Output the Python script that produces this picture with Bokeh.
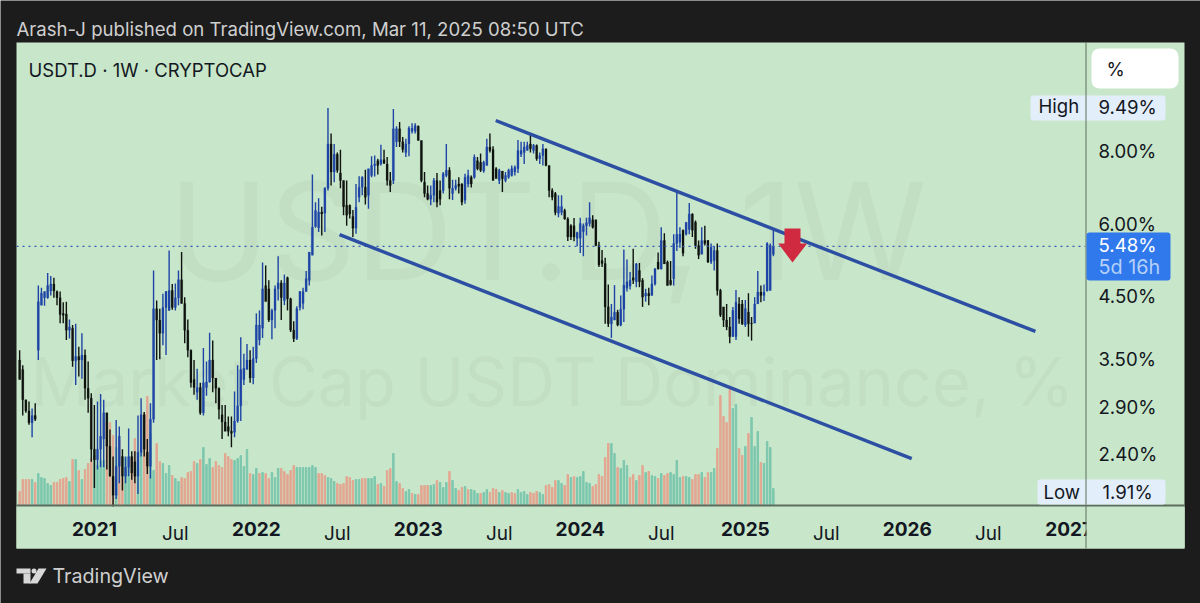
import pandas as pd
from bokeh.embed import file_html
from bokeh.resources import INLINE
from bokeh.plotting import figure
from bokeh.models import (Range1d, LinearAxis, LinearScale, FixedTicker, BoxAnnotation, Label,
                          PolyAnnotation, ColumnDataSource)

FIRST_WEEK = "2020-07-13"
highs = [3.63,3.42,2.98,2.96,2.88,2.94,4.69,4.65,4.58,4.93,
 4.87,4.84,4.60,4.58,4.39,4.40,4.10,4.01,4.03,3.68,
 3.88,3.64,3.47,3.06,2.92,2.96,3.05,2.98,2.83,2.65,
 2.38,2.75,2.68,2.45,2.38,2.66,2.43,2.43,2.80,3.00,
 2.84,2.55,2.94,4.98,4.42,4.28,4.54,4.59,5.39,4.72,
 4.73,4.98,5.36,4.48,4.10,3.64,3.49,3.37,3.19,3.66,
 3.47,3.89,3.77,3.25,3.13,2.92,2.92,2.79,2.79,3.08,
 3.42,3.82,3.58,3.72,3.63,3.68,4.20,4.25,5.14,5.08,
 4.79,4.28,4.69,5.27,4.79,4.90,4.86,4.47,4.07,4.32,
 4.59,4.65,4.97,5.36,7.29,6.53,6.63,6.41,6.93,9.49,
 8.58,8.23,7.95,8.04,7.12,7.12,6.47,6.33,7.02,7.24,
 7.24,7.43,7.46,7.84,7.86,7.76,8.20,8.04,7.81,7.36,
 9.45,8.83,8.98,8.46,8.40,8.83,8.93,8.93,8.85,8.34,
 7.36,6.98,6.98,7.19,7.33,7.12,7.36,8.23,7.50,7.14,
 7.14,7.21,7.04,7.31,7.43,7.26,7.89,7.81,7.92,7.70,
 8.40,8.58,8.15,7.50,7.46,7.39,7.36,7.46,7.55,7.55,
 8.36,8.30,8.30,8.30,8.53,8.23,8.21,7.95,8.23,8.07,
 7.55,6.90,6.80,6.71,6.71,6.36,6.15,5.98,6.13,5.81,
 6.14,6.00,6.14,6.53,6.20,6.09,5.58,5.40,5.24,4.71,
 4.36,4.70,4.26,4.51,5.41,5.20,4.95,5.43,5.13,5.13,
 4.83,4.63,4.65,4.88,5.03,5.35,5.91,5.77,5.18,5.17,
 5.75,6.80,5.91,5.86,6.03,6.51,6.25,6.07,5.61,5.91,
 5.95,5.62,5.54,5.48,5.54,4.63,4.31,4.36,4.14,4.31,
 4.61,4.48,4.43,4.43,4.55,4.14,4.48,4.97,4.69,4.71,
 5.57,5.54,5.85]
lows = [3.23,2.80,2.83,2.70,2.57,2.74,3.49,4.34,4.33,4.45,
 4.51,4.47,4.34,4.04,4.04,3.78,3.80,3.40,3.16,3.27,
 3.24,2.98,2.83,2.33,2.10,2.26,2.28,2.28,2.26,2.20,
 1.91,2.01,2.14,2.08,2.14,2.20,2.17,2.14,2.05,2.38,
 2.38,2.22,2.18,2.72,3.49,3.50,3.70,3.56,4.25,4.26,
 4.25,4.34,4.37,3.73,3.53,3.13,3.04,2.98,2.81,2.80,
 3.03,3.19,3.07,2.94,2.76,2.55,2.63,2.58,2.47,2.57,
 2.72,2.74,3.16,3.36,3.19,3.17,3.45,3.70,3.81,4.42,
 4.06,3.79,3.96,4.42,4.09,4.34,4.25,3.90,3.75,3.78,
 4.25,4.27,4.58,4.69,5.29,5.90,5.80,5.72,5.80,6.84,
 6.98,7.07,7.34,6.90,6.20,5.95,6.12,5.69,5.76,6.53,
 6.71,6.47,6.36,7.21,7.23,7.29,7.55,7.60,6.98,6.80,
 7.02,8.13,8.13,7.95,7.81,7.84,8.58,8.58,8.34,7.07,
 6.66,6.58,6.45,6.53,6.40,6.45,6.76,7.21,6.61,6.59,
 6.84,6.76,6.45,6.49,6.93,6.92,7.17,7.41,7.36,7.34,
 7.55,7.95,7.12,7.21,7.02,6.80,7.07,7.17,7.23,7.26,
 7.33,7.81,7.60,8.02,7.95,7.92,7.70,7.60,7.55,7.53,
 6.66,6.58,6.20,6.15,6.20,6.09,5.60,5.62,5.59,5.48,
 5.34,5.27,5.72,5.93,5.88,5.48,5.05,5.05,4.03,3.98,
 3.81,4.09,3.99,3.99,4.06,4.58,4.62,4.72,4.66,4.66,
 4.31,4.40,4.34,4.51,4.69,5.00,5.00,5.11,4.69,4.69,
 4.69,5.38,5.45,5.27,5.72,5.75,5.69,5.43,5.21,5.31,
 5.50,5.13,5.11,4.98,4.51,4.14,3.98,3.93,3.73,3.83,
 3.78,4.03,4.01,3.98,3.83,3.77,4.04,4.42,4.39,4.41,
 4.58,4.60,5.27]
opens = [3.49,3.36,2.98,2.85,2.72,2.80,3.63,4.34,4.47,4.47,
 4.59,4.72,4.58,4.47,4.20,4.19,3.93,3.96,3.48,3.54,
 3.49,3.56,3.12,3.00,2.45,2.35,2.45,2.55,2.83,2.48,
 2.20,2.04,2.29,2.38,2.20,2.28,2.38,2.33,2.20,2.42,
 2.81,2.42,2.29,2.76,4.28,4.09,3.88,4.30,4.25,4.60,
 4.30,4.47,4.80,4.37,3.93,3.63,3.23,3.07,3.13,2.83,
 3.13,3.20,3.49,3.25,3.12,2.81,2.73,2.68,2.63,2.62,
 2.74,2.91,3.23,3.36,3.49,3.25,3.51,3.78,3.96,4.69,
 4.63,4.09,4.25,4.63,4.74,4.42,4.84,4.45,3.93,3.80,
 4.30,4.37,4.58,4.79,5.29,5.93,5.90,6.28,6.25,6.90,
 8.23,7.36,7.90,7.33,7.12,6.45,6.45,6.17,5.89,6.66,
 6.93,6.93,6.71,7.26,7.55,7.70,7.60,7.73,7.60,7.12,
 7.12,8.30,8.74,8.30,7.95,8.23,8.65,8.65,8.83,8.34,
 7.07,6.76,6.61,6.71,7.12,6.84,6.84,7.26,7.41,6.76,
 6.90,7.02,7.02,6.58,7.02,7.21,7.21,7.70,7.65,7.39,
 7.55,8.13,8.05,7.46,7.12,7.39,7.12,7.21,7.26,7.36,
 7.46,7.90,7.95,8.02,8.23,8.02,8.18,7.76,7.86,8.07,
 7.55,6.84,6.76,6.25,6.27,6.32,6.11,5.95,5.95,5.66,
 5.66,5.81,5.95,6.00,6.09,6.09,5.50,5.18,5.12,4.31,
 4.03,4.09,4.22,4.01,4.27,4.64,4.68,4.84,4.76,4.98,
 4.79,4.50,4.55,4.51,4.72,5.15,5.01,5.61,5.15,4.79,
 4.82,5.54,5.57,5.84,5.75,5.86,6.23,6.03,5.50,5.31,
 5.61,5.61,5.15,5.18,5.39,4.60,4.31,4.09,3.98,3.83,
 3.83,4.36,4.36,4.01,4.22,4.04,4.04,4.36,4.57,4.51,
 4.59,4.60,5.31]
closes = [3.23,2.98,2.85,2.72,2.80,2.76,4.40,4.55,4.58,4.69,
 4.72,4.59,4.47,4.18,4.17,3.93,3.98,3.48,3.54,3.49,
 3.56,3.12,3.00,2.45,2.35,2.45,2.58,2.83,2.48,2.20,
 2.04,2.29,2.58,2.20,2.28,2.38,2.23,2.20,2.42,2.81,
 2.45,2.29,2.76,4.28,4.09,3.88,4.30,4.58,4.60,4.30,
 4.47,4.80,4.37,3.93,3.63,3.19,3.13,3.13,2.83,3.19,
 3.20,3.49,3.25,3.12,2.87,2.73,2.63,2.63,2.61,2.74,
 2.91,3.36,3.38,3.49,3.25,3.51,4.01,4.01,4.63,4.40,
 4.09,4.25,4.63,4.74,4.47,4.74,4.45,3.93,3.80,4.28,
 4.58,4.58,4.82,5.36,5.91,6.32,6.28,6.23,6.90,8.23,
 7.36,7.90,7.41,7.12,6.41,6.20,6.23,5.89,6.40,6.93,
 7.21,6.66,7.46,7.55,7.60,7.55,7.73,7.62,7.12,6.98,
 8.74,8.74,8.30,8.05,8.23,8.76,8.76,8.85,8.34,7.12,
 6.76,6.61,6.71,7.12,6.53,6.61,7.31,7.41,6.90,6.90,
 6.98,6.96,6.53,7.21,7.26,7.02,7.81,7.46,7.41,7.65,
 8.13,8.02,7.12,7.17,7.41,7.17,7.26,7.41,7.46,7.50,
 8.02,8.02,8.13,8.18,8.07,8.18,7.76,7.86,8.07,7.55,
 6.84,6.66,6.27,6.42,6.42,6.11,5.69,5.69,5.69,5.79,
 6.00,5.95,6.02,6.14,5.91,5.50,5.09,5.12,4.31,4.03,
 4.14,4.22,4.01,4.27,4.70,4.76,4.79,4.79,5.11,4.76,
 4.48,4.55,4.50,4.72,5.01,5.01,5.61,5.11,4.69,4.71,
 5.54,5.75,5.75,5.33,6.03,6.23,5.84,5.50,5.29,5.61,
 5.54,5.15,5.46,5.39,4.60,4.17,4.09,3.98,3.83,4.25,
 4.39,4.11,4.03,4.28,4.03,4.03,4.36,4.57,4.51,4.57,
 5.54,5.50,5.48]
volumes = [14,26,26,26,26,23,32,28,27,22,
 20,23,23,26,27,28,24,46,46,35,
 26,36,42,47,50,40,45,45,83,83,
 70,58,65,28,48,38,48,67,38,55,
 92,109,72,35,62,44,42,32,40,30,
 27,24,28,27,33,34,44,42,46,58,
 41,47,38,44,40,38,52,49,46,45,
 47,50,39,56,32,31,37,32,33,32,
 27,33,28,37,37,34,31,35,40,38,
 38,38,38,38,40,38,32,32,30,28,
 27,24,22,21,22,29,28,25,26,26,
 27,27,27,27,29,21,22,19,35,37,
 52,24,22,17,14,16,12,11,11,20,
 20,20,20,21,25,23,18,23,34,25,
 17,15,18,19,16,16,15,12,12,13,
 16,13,17,16,13,15,13,12,13,12,
 16,13,14,11,13,12,14,13,11,20,
 21,18,25,25,22,20,31,28,29,28,
 29,34,23,22,19,21,31,29,48,62,
 62,52,38,37,45,40,28,31,25,30,
 40,33,34,30,29,27,32,30,32,33,
 31,45,28,29,29,28,26,31,31,33,
 28,33,33,37,57,110,89,83,116,97,
 101,57,50,59,72,88,59,74,43,42,
 64,58,17]
volume_side = ("sssststttt" "tssssststs" "tsssttttss" "stssttsstt" "ssttssttts"
               "ttssssstst" "ttssssssst" "ttttsttsts" "stttssssst" "ttttttssst"
               "ttsssssstt" "sstttstsss" "ttssttstss" "ssttstttst" "tsststttst"
               "tssststtss" "ttttssstts" "sssttsstst" "ttttssssss" "ttstttssts"
               "ststtstsst" "tttsttssst" "ssttssssst" "tsststttst" "ttt")
price_ticks = [8.0, 6.0, 4.5, 3.5, 2.9, 2.4]
year_ticks = ["2020-12-28", "2021-12-27", "2022-12-26", "2023-12-25", "2024-12-30", "2025-12-29", "2026-12-28"]
year_labels = ["2021", "2022", "2023", "2024", "2025", "2026", "2027"]
month_ticks = ["2021-06-28", "2022-06-27", "2023-06-26", "2024-06-24", "2025-06-30", "2026-06-29"]
month_labels = ["Jul", "Jul", "Jul", "Jul", "Jul", "Jul"]
upper_dates = ["2023-06-18", "2026-10-13"]
upper_prices = [9.03, 3.91]
lower_dates = ["2022-07-02", "2026-01-08"]
lower_prices = [5.74, 2.36]
arrow_dates = ["2025-03-28", "2025-05-03", "2025-05-03", "2025-05-18", "2025-04-15", "2025-03-14", "2025-03-28"]
arrow_prices = [5.88, 5.88, 5.54, 5.54, 5.14, 5.54, 5.54]
last_price = 5.48
high_price = 9.49
low_price = 1.91

assert len(highs) == len(lows) == len(opens) == len(closes) == len(volumes) == len(volume_side) == 243

FONT = "Inter"
BG = "#c8e6c9"
DARK = "#1c1c1c"
INK = "#131722"
AXIS = "#5d6e60"
W, H = 1200, 603


def ms(d):
    return int(pd.Timestamp(d).value // 10**6)


WEEK = 7 * 24 * 3600 * 1000
t0 = ms(FIRST_WEEK)
xs = [t0 + i * WEEK for i in range(len(closes))]
up = [c >= o for o, c in zip(opens, closes)]
src = ColumnDataSource(dict(
    x=xs, h=highs, l=lows, o=opens, c=closes,
    top=[max(o, c) for o, c in zip(opens, closes)],
    bot=[min(o, c) for o, c in zip(opens, closes)],
    color=["#1d44a6" if u else "#0f120f" for u in up],
    v=volumes, vc=["#7cc7ae" if s == "t" else "#e3a691" for s in volume_side],
))

# The plot frame fills the whole canvas so header, price tags and footer are drawn with it.
p = figure(width=W, height=H, output_backend="svg", toolbar_location=None,
           y_axis_type="log", y_axis_location="right",
           x_range=Range1d(ms("2020-05-31"), ms("2027-10-19")),
           y_range=Range1d(1.328, 14.54),
           background_fill_color=DARK, border_fill_color=DARK,
           min_border=0)
p.outline_line_color = None
p.grid.visible = False
p.extra_y_ranges = {"vol": Range1d(-98, 505)}
p.extra_y_scales = {"vol": LinearScale()}


def box(x0, y0, x1, y1, color, level="underlay", **kw):
    b = BoxAnnotation(left=x0, right=x1, top=y0, bottom=y1,
                      left_units="canvas", right_units="canvas", top_units="canvas", bottom_units="canvas",
                      fill_color=color, fill_alpha=1, line_color=None, level=level, **kw)
    p.add_layout(b)
    return b


def text(x, y, s, size, color=INK, align="left", style="normal", level="annotation"):
    p.add_layout(Label(x=x, y=y, x_units="canvas", y_units="canvas", text=s,
                       text_font=FONT, text_font_size=f"{size}px", text_color=color,
                       text_align=align, text_baseline="middle", text_font_style=style, level=level))


# panel and watermark
box(16, 42, 1184, 548, BG)
WM = "#c2dfc3"
text(168, 230, "USDT.D, 1W", 135, WM, level="underlay")
text(30, 381, "Market Cap USDT Dominance, %", 66.7, WM, level="underlay")

# volume
p.vbar(x="x", top="v", bottom=0, width=0.46 * WEEK, color="vc", source=src, y_range_name="vol")
# candles
p.segment(x0="x", x1="x", y0="l", y1="h", color="color", line_width=1.4, source=src)
p.vbar(x="x", top="top", bottom="bot", width=0.68 * WEEK, fill_color="color", line_color="color",
       line_width=0.2, source=src)

# last price line
p.line([ms("2020-07-06"), ms("2027-02-02")], [last_price, last_price], line_color="#3559b5",
       line_width=1.2, line_dash="dotted")
# channel
TREND = "#2c4fa3"
p.line([ms(d) for d in upper_dates], upper_prices, line_color=TREND, line_width=3.4)
p.line([ms(d) for d in lower_dates], lower_prices, line_color=TREND, line_width=3.4)
p.patch([ms(d) for d in arrow_dates], arrow_prices, fill_color="#cf2a3f", line_color=None)

# cover the lowest wick below the time scale line
box(16, 506, 1184, 548, BG, level="glyph")

# axes: labels sit inside the frame, at a fixed location with a negative standoff
yax = p.yaxis[0]
yax.ticker = FixedTicker(ticks=price_ticks)
yax.major_label_overrides = {t: f"{t:.2f}%" for t in price_ticks}
yax.fixed_location = ms("2027-08-08")
yax.major_label_standoff = -70
yax.major_label_text_font_size = "18.6px"

xax = p.xaxis[0]
xax.ticker = FixedTicker(ticks=[ms(d) for d in month_ticks])
xax.major_label_overrides = {ms(d): s for d, s in zip(month_ticks, month_labels)}
ax2 = LinearAxis(ticker=FixedTicker(ticks=[ms(d) for d in year_ticks]),
                 major_label_overrides={ms(d): s for d, s in zip(year_ticks, year_labels)})
p.add_layout(ax2, "below")
for ax, st in ((xax, "normal"), (ax2, "bold")):
    ax.fixed_location = 1.63
    ax.major_label_standoff = -30
    ax.major_label_text_font_size = "19px"
    ax.major_label_text_font_style = st
for ax in (yax, xax, ax2):
    ax.axis_line_color = None
    ax.major_tick_line_color = None
    ax.minor_tick_line_color = None
    ax.major_tick_in = 0
    ax.major_tick_out = 0
    ax.major_label_text_font = FONT
    ax.major_label_text_color = INK

# clip the last time label at the price scale, axis lines
box(1086, 507, 1184, 547, BG, level="annotation")
box(16, 504, 1184, 506, AXIS, level="annotation")
box(1085, 42, 1086, 548, AXIS, level="annotation")

# price tags
TAG = "#e3eefb"
box(1030, 95, 1165, 120, TAG, level="annotation", border_radius=3)
box(1037, 479, 1165, 504, TAG, level="annotation", border_radius=3)
box(1086, 232, 1170, 280, "#2f79ec", level="annotation", border_radius=3)
box(1091, 48, 1178, 88, "#ffffff", level="annotation", border_radius=8)
box(1085, 95, 1086, 120, AXIS, level="annotation")
box(1085, 479, 1086, 504, AXIS, level="annotation")
text(1106, 68, "%", 18.6)
text(1038, 105.5, "High", 18.6)
text(1098, 106.5, f"{high_price:.2f}%", 18.6)
text(1043, 491, "Low", 18.6)
text(1102, 491, f"{low_price:.2f}%", 18.6)
text(1098, 244, f"{last_price:.2f}%", 18.6, "#ffffff")
text(1098, 266, "5d 16h", 19.8, "#b5d0fa")

# header, footer
text(16, 28, "Arash-J published on TradingView.com, Mar 11, 2025 08:50 UTC", 18.6, "#cfcfcf")
text(28, 69, "USDT.D · 1W · CRYPTOCAP", 18.5, INK)
text(52, 575, "TradingView", 19.7, "#cfcfcf")
LOGO = "#d8d8d8"
box(16, 568, 30, 573, LOGO, level="annotation")
box(23, 573, 30, 583, LOGO, level="annotation")
box(31, 568, 36, 573, LOGO, level="annotation", border_radius=3)
p.add_layout(PolyAnnotation(xs=[38, 46, 37, 29], ys=[568, 568, 583, 583],
                            xs_units="canvas", ys_units="canvas", fill_color=LOGO, fill_alpha=1, line_color=None))

html = file_html(p, INLINE)
open("out.html", "w").write(html)
